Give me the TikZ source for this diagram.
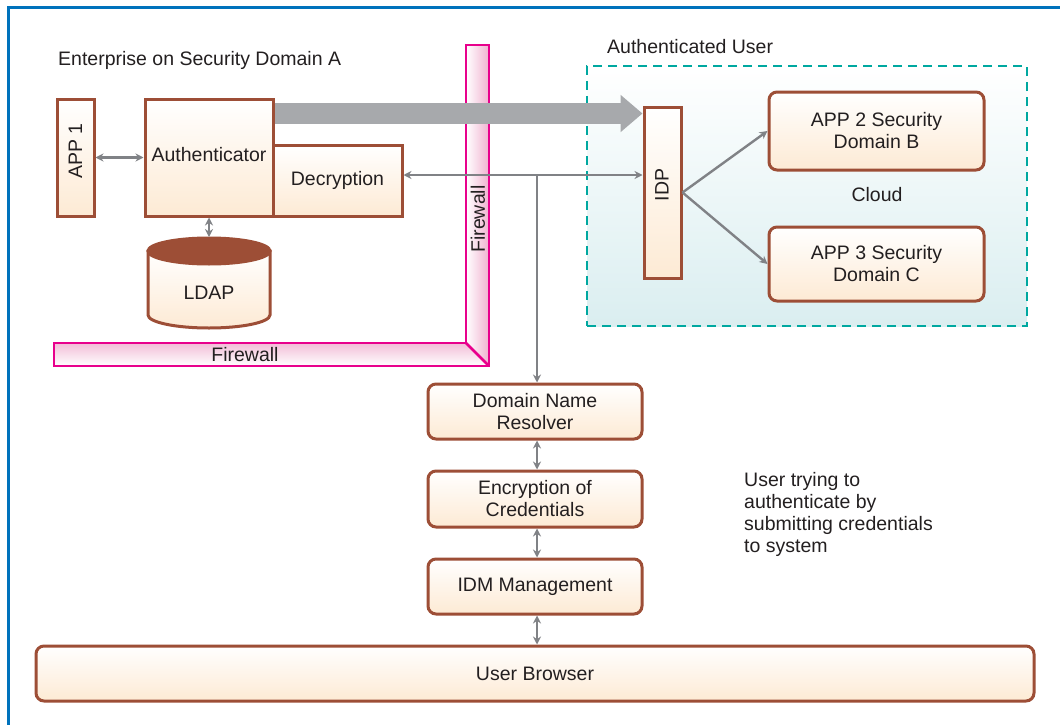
\documentclass[tikz,border=0pt]{standalone}
\usepackage{fontspec}
\setmainfont{Liberation Sans}
\usetikzlibrary{arrows.meta}
\definecolor{brn}{RGB}{157,78,54}
\definecolor{peach}{RGB}{253,234,212}
\definecolor{txt}{RGB}{35,31,32}
\definecolor{cgray}{RGB}{128,130,134}
\definecolor{bgray}{RGB}{167,169,172}
\definecolor{fwline}{RGB}{232,0,140}
\definecolor{fwpink}{RGB}{240,178,208}
\definecolor{cteal}{RGB}{0,168,160}
\definecolor{cloudbot}{RGB}{218,238,240}
\definecolor{frameblue}{RGB}{0,114,188}
\begin{document}
\begin{tikzpicture}[x=1pt,y=-1pt,
  font=\fontsize{19.5}{22}\selectfont,
  box/.style={draw=brn, line width=3pt, top color=white, bottom color=peach, inner sep=0pt, text=txt},
  rbox/.style={box, rounded corners=8pt, align=center},
  lbl/.style={inner sep=0pt, text=txt},
  conn/.style={draw=cgray, line width=2.4pt, -{Stealth[length=8pt,width=8pt]}},
  dconn/.style={conn, {Stealth[length=8pt,width=8pt]}-{Stealth[length=8pt,width=8pt]}},
]
\useasboundingbox (0,0) rectangle (1060,725);
\clip (0,0) rectangle (1060,725);
\fill[white] (0,0) rectangle (1060,725);
\draw[frameblue, line width=3pt] (8,8) rectangle (1090,760);

% cloud container
\node[draw=cteal, line width=2.2pt, dash pattern=on 9pt off 6pt, top color=white, bottom color=cloudbot,
      minimum width=440pt, minimum height=260pt, inner sep=0pt] (cloudbox) at (807,196) {};
\node[lbl, anchor=west] (auser) at (607,47) {Authenticated User};
\node[lbl] (cloud) at (877,195) {Cloud};

% titles
\node[lbl, anchor=west] (title) at (58,60) {Enterprise on Security Domain A};

% firewall
\shade[left color=white, right color=fwpink] (466,45) -- (489,45) -- (489,366) -- (466,343) -- cycle;
\shade[top color=fwpink!85!white, bottom color=white] (54,343) -- (466,343) -- (489,366) -- (54,366) -- cycle;
\draw[fwline, line width=2.6pt, line join=miter] (466,45) -- (489,45) -- (489,366) -- (54,366) -- (54,343) -- (466,343) -- cycle;
\draw[fwline, line width=2.6pt] (466,343) -- (489,366);
\node[lbl, rotate=90] (fwv) at (478,219) {Firewall};
\node[lbl] (fwh) at (245,355) {Firewall};

% enterprise boxes
\node[box, minimum width=37pt, minimum height=117pt] (app1) at (75.5,157.5) {};
\node[lbl, rotate=90] (app1t) at (75.5,151) {APP 1};
\node[box, minimum width=129pt, minimum height=71pt] (dec) at (337.5,180.5) {Decryption};
\node[box, minimum width=128pt, minimum height=117pt] (auth) at (209,157.5) {};
\node[lbl] (autht) at (209,155) {Authenticator};

% LDAP cylinder
\path[draw=brn, line width=3pt, top color=white, bottom color=peach]
  (148,251) -- (148,315) arc[start angle=180, end angle=360, x radius=61pt, y radius=13pt] -- (270,251) -- cycle;
\draw[draw=brn, fill=brn, line width=3pt] (209,251) ellipse[x radius=61pt, y radius=13pt];
\coordinate (ldaptop) at (209,237);
\node[lbl] (ldap) at (209,293) {LDAP};

% cloud boxes
\node[box, minimum width=37pt, minimum height=171pt] (idp) at (662.5,192.5) {};
\node[lbl, rotate=90] (idpt) at (662,185) {IDP};
\node[rbox, minimum width=215pt, minimum height=78pt] (app2) at (876.5,131) {APP 2 Security\\Domain B};
\node[rbox, minimum width=215pt, minimum height=74pt] (app3) at (876.5,264) {APP 3 Security\\Domain C};

% lower chain
\node[rbox, minimum width=214pt, minimum height=55pt] (dnr) at (535,411.5) {Domain Name\\Resolver};
\node[rbox, minimum width=214pt, minimum height=56pt] (enc) at (535,499) {Encryption of\\Credentials};
\node[rbox, minimum width=214pt, minimum height=55pt] (idm) at (535,586.5) {IDM Management};
\node[rbox, minimum width=998pt, minimum height=55pt] (ub) at (535,673.5) {User Browser};

\node[lbl, align=left, anchor=north west] (note) at (744,472) {User trying to\\authenticate by\\submitting credentials\\to system};

% connectors
\draw[bgray, line width=21pt, -{Triangle[length=22pt,width=36pt]}] (auth.east |- 0,113.5) -- (idp.west |- 0,113.5);
\draw[dconn] (app1) -- (auth);
\draw[dconn] (auth.south) -- (ldaptop);
\draw[dconn] (dec.east |- 0,175) -- (idp.west |- 0,175);
\coordinate (jn) at (537,175);
\draw[conn] (jn) -- (dnr.north -| jn);
\draw[conn] (idp.east) -- (app2.west);
\draw[conn] (idp.east) -- (app3.west);
\draw[dconn] (dnr.south -| jn) -- (enc.north -| jn);
\draw[dconn] (enc.south -| jn) -- (idm.north -| jn);
\draw[dconn] (idm.south -| jn) -- (ub.north -| jn);
\end{tikzpicture}
\end{document}
